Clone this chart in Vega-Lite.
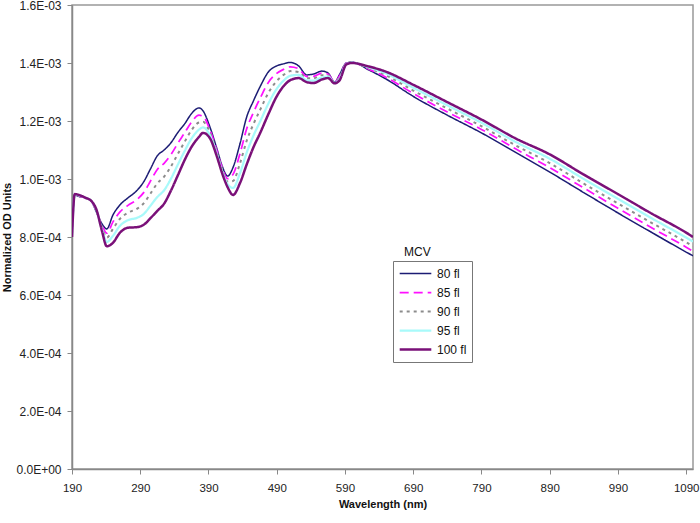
{
  "$schema": "https://vega.github.io/schema/vega-lite/v6.json",
  "width": 621,
  "height": 464,
  "autosize": {"type": "none"},
  "padding": {"left": 72, "top": 5, "right": 7, "bottom": 54},
  "background": "white",
  "config": {
    "font": "Liberation Sans",
    "view": {"stroke": "#999999", "strokeWidth": 1.5},
    "axis": {"grid": false, "domainColor": "#888888", "tickColor": "#888888", "labelColor": "#222222", "labelFontSize": 12, "titleFontSize": 12, "titleFontWeight": "bold", "titleColor": "#111111", "domainWidth": 1.5, "tickSize": 5}
  },
  "layer": [
    {
      "data": {
        "values": [
          {"w":190,"80 fl":0.000820,"85 fl":0.000815,"90 fl":0.000810,"95 fl":0.000805,"100 fl":0.000800},
          {"w":194,"80 fl":0.000945,"85 fl":0.000946,"90 fl":0.000946,"95 fl":0.000947,"100 fl":0.000948},
          {"w":200,"80 fl":0.000940,"85 fl":0.000941,"90 fl":0.000943,"95 fl":0.000944,"100 fl":0.000945},
          {"w":210,"80 fl":0.000935,"85 fl":0.000935,"90 fl":0.000935,"95 fl":0.000935,"100 fl":0.000935},
          {"w":218,"80 fl":0.000925,"85 fl":0.000925,"90 fl":0.000925,"95 fl":0.000925,"100 fl":0.000925},
          {"w":226,"80 fl":0.000885,"85 fl":0.000887,"90 fl":0.000889,"95 fl":0.000891,"100 fl":0.000893},
          {"w":234,"80 fl":0.000845,"85 fl":0.000839,"90 fl":0.000833,"95 fl":0.000826,"100 fl":0.000820},
          {"w":241,"80 fl":0.000828,"85 fl":0.000813,"90 fl":0.000798,"95 fl":0.000783,"100 fl":0.000768},
          {"w":250,"80 fl":0.000876,"85 fl":0.000852,"90 fl":0.000828,"95 fl":0.000804,"100 fl":0.000780},
          {"w":260,"80 fl":0.000910,"85 fl":0.000886,"90 fl":0.000862,"95 fl":0.000838,"100 fl":0.000814},
          {"w":272,"80 fl":0.000935,"85 fl":0.000909,"90 fl":0.000884,"95 fl":0.000858,"100 fl":0.000832},
          {"w":285,"80 fl":0.000960,"85 fl":0.000929,"90 fl":0.000897,"95 fl":0.000866,"100 fl":0.000834},
          {"w":295,"80 fl":0.000990,"85 fl":0.000953,"90 fl":0.000916,"95 fl":0.000879,"100 fl":0.000842},
          {"w":305,"80 fl":0.001035,"85 fl":0.000993,"90 fl":0.000950,"95 fl":0.000908,"100 fl":0.000865},
          {"w":315,"80 fl":0.001080,"85 fl":0.001033,"90 fl":0.000985,"95 fl":0.000938,"100 fl":0.000890},
          {"w":325,"80 fl":0.001100,"85 fl":0.001054,"90 fl":0.001008,"95 fl":0.000961,"100 fl":0.000915},
          {"w":335,"80 fl":0.001125,"85 fl":0.001084,"90 fl":0.001043,"95 fl":0.001001,"100 fl":0.000960},
          {"w":345,"80 fl":0.001160,"85 fl":0.001123,"90 fl":0.001086,"95 fl":0.001049,"100 fl":0.001012},
          {"w":355,"80 fl":0.001190,"85 fl":0.001159,"90 fl":0.001128,"95 fl":0.001096,"100 fl":0.001065},
          {"w":365,"80 fl":0.001225,"85 fl":0.001196,"90 fl":0.001168,"95 fl":0.001139,"100 fl":0.001110},
          {"w":376,"80 fl":0.001245,"85 fl":0.001220,"90 fl":0.001195,"95 fl":0.001170,"100 fl":0.001145},
          {"w":382,"80 fl":0.001235,"85 fl":0.001216,"90 fl":0.001197,"95 fl":0.001178,"100 fl":0.001159},
          {"w":392,"80 fl":0.001180,"85 fl":0.001170,"90 fl":0.001161,"95 fl":0.001151,"100 fl":0.001141},
          {"w":402,"80 fl":0.001107,"85 fl":0.001100,"90 fl":0.001094,"95 fl":0.001087,"100 fl":0.001080},
          {"w":410,"80 fl":0.001045,"85 fl":0.001039,"90 fl":0.001033,"95 fl":0.001026,"100 fl":0.001020},
          {"w":418,"80 fl":0.001010,"85 fl":0.001001,"90 fl":0.000991,"95 fl":0.000982,"100 fl":0.000972},
          {"w":426,"80 fl":0.001040,"85 fl":0.001016,"90 fl":0.000993,"95 fl":0.000969,"100 fl":0.000945},
          {"w":436,"80 fl":0.001120,"85 fl":0.001086,"90 fl":0.001053,"95 fl":0.001019,"100 fl":0.000985},
          {"w":446,"80 fl":0.001214,"85 fl":0.001173,"90 fl":0.001132,"95 fl":0.001091,"100 fl":0.001050},
          {"w":456,"80 fl":0.001270,"85 fl":0.001230,"90 fl":0.001190,"95 fl":0.001150,"100 fl":0.001110},
          {"w":466,"80 fl":0.001320,"85 fl":0.001280,"90 fl":0.001240,"95 fl":0.001200,"100 fl":0.001160},
          {"w":478,"80 fl":0.001370,"85 fl":0.001334,"90 fl":0.001298,"95 fl":0.001261,"100 fl":0.001225},
          {"w":490,"80 fl":0.001390,"85 fl":0.001364,"90 fl":0.001338,"95 fl":0.001311,"100 fl":0.001285},
          {"w":500,"80 fl":0.001397,"85 fl":0.001378,"90 fl":0.001359,"95 fl":0.001339,"100 fl":0.001320},
          {"w":510,"80 fl":0.001402,"85 fl":0.001387,"90 fl":0.001372,"95 fl":0.001356,"100 fl":0.001341},
          {"w":522,"80 fl":0.001390,"85 fl":0.001380,"90 fl":0.001369,"95 fl":0.001359,"100 fl":0.001348},
          {"w":534,"80 fl":0.001359,"85 fl":0.001353,"90 fl":0.001347,"95 fl":0.001340,"100 fl":0.001334},
          {"w":544,"80 fl":0.001362,"85 fl":0.001354,"90 fl":0.001347,"95 fl":0.001339,"100 fl":0.001331},
          {"w":556,"80 fl":0.001372,"85 fl":0.001365,"90 fl":0.001358,"95 fl":0.001350,"100 fl":0.001343},
          {"w":565,"80 fl":0.001366,"85 fl":0.001362,"90 fl":0.001357,"95 fl":0.001353,"100 fl":0.001348},
          {"w":575,"80 fl":0.001334,"85 fl":0.001333,"90 fl":0.001332,"95 fl":0.001331,"100 fl":0.001330},
          {"w":582,"80 fl":0.001360,"85 fl":0.001355,"90 fl":0.001350,"95 fl":0.001345,"100 fl":0.001340},
          {"w":592,"80 fl":0.001400,"85 fl":0.001399,"90 fl":0.001398,"95 fl":0.001396,"100 fl":0.001395},
          {"w":600,"80 fl":0.001403,"85 fl":0.001402,"90 fl":0.001402,"95 fl":0.001401,"100 fl":0.001400},
          {"w":625,"80 fl":0.001376,"85 fl":0.001379,"90 fl":0.001382,"95 fl":0.001385,"100 fl":0.001388},
          {"w":650,"80 fl":0.001345,"85 fl":0.001351,"90 fl":0.001358,"95 fl":0.001364,"100 fl":0.001370},
          {"w":690,"80 fl":0.001285,"85 fl":0.001295,"90 fl":0.001305,"95 fl":0.001315,"100 fl":0.001325},
          {"w":740,"80 fl":0.001220,"85 fl":0.001231,"90 fl":0.001243,"95 fl":0.001254,"100 fl":0.001265},
          {"w":790,"80 fl":0.001159,"85 fl":0.001171,"90 fl":0.001182,"95 fl":0.001194,"100 fl":0.001205},
          {"w":840,"80 fl":0.001092,"85 fl":0.001104,"90 fl":0.001116,"95 fl":0.001128,"100 fl":0.001140},
          {"w":890,"80 fl":0.001024,"85 fl":0.001039,"90 fl":0.001055,"95 fl":0.001070,"100 fl":0.001085},
          {"w":940,"80 fl":0.000953,"85 fl":0.000969,"90 fl":0.000984,"95 fl":0.001000,"100 fl":0.001015},
          {"w":990,"80 fl":0.000883,"85 fl":0.000899,"90 fl":0.000916,"95 fl":0.000932,"100 fl":0.000948},
          {"w":1040,"80 fl":0.000815,"85 fl":0.000831,"90 fl":0.000848,"95 fl":0.000864,"100 fl":0.000880},
          {"w":1090,"80 fl":0.000748,"85 fl":0.000765,"90 fl":0.000782,"95 fl":0.000798,"100 fl":0.000815},
          {"w":1100,"80 fl":0.000735,"85 fl":0.000751,"90 fl":0.000768,"95 fl":0.000784,"100 fl":0.000800}
        ]
      },
      "transform": [{"fold": ["80 fl", "85 fl", "90 fl", "95 fl", "100 fl"], "as": ["MCV", "v"]}],
      "mark": {"type": "line", "interpolate": "monotone", "clip": true},
      "encoding": {
        "x": {
          "field": "w", "type": "quantitative",
          "scale": {"domain": [190, 1100], "nice": false, "zero": false},
          "axis": {"title": "Wavelength (nm)", "titleFontSize": 11, "labelFontSize": 11.5, "values": [190, 290, 390, 490, 590, 690, 790, 890, 990, 1090], "format": "d", "labelPadding": 8, "titlePadding": 5, "labelFlush": false}
        },
        "y": {
          "field": "v", "type": "quantitative",
          "scale": {"domain": [0, 0.0016], "nice": false},
          "axis": {"title": "Normalized OD Units", "titleFontSize": 11, "values": [0, 0.0002, 0.0004, 0.0006, 0.0008, 0.001, 0.0012, 0.0014, 0.0016],
            "labelExpr": "datum.value == 0 ? '0.0E+00' : (datum.value < 0.00099 ? format(datum.value * 10000, '.1f') + 'E-04' : format(datum.value * 1000, '.1f') + 'E-03')",
            "labelPadding": 6, "titlePadding": 3}
        },
        "color": {
          "field": "MCV", "type": "ordinal",
          "sort": ["80 fl", "85 fl", "90 fl", "95 fl", "100 fl"],
          "scale": {"domain": ["80 fl", "85 fl", "90 fl", "95 fl", "100 fl"], "range": ["#1c1c74", "#ff10ff", "#8c8c8c", "#a8fafa", "#7a1078"]},
          "legend": {
            "title": null, "orient": "none", "legendX": 321, "legendY": 256,
            "strokeColor": "#777777", "padding": 5, "fillColor": "white",
            "symbolType": "stroke", "symbolSize": 1000, "labelFontSize": 12, "labelColor": "#111111",
            "rowPadding": 4, "clipHeight": 15, "labelOffset": 4
          }
        },
        "strokeDash": {
          "field": "MCV", "type": "ordinal",
          "sort": ["80 fl", "85 fl", "90 fl", "95 fl", "100 fl"],
          "scale": {"domain": ["80 fl", "85 fl", "90 fl", "95 fl", "100 fl"], "range": [[1, 0], [9, 5], [3, 4], [1, 0], [1, 0]]},
          "legend": {"title": null, "orient": "none", "legendX": 321, "legendY": 256}
        },
        "strokeWidth": {
          "field": "MCV", "type": "ordinal",
          "sort": ["80 fl", "85 fl", "90 fl", "95 fl", "100 fl"],
          "scale": {"domain": ["80 fl", "85 fl", "90 fl", "95 fl", "100 fl"], "range": [1.5, 2.5, 2, 3, 2.5]},
          "legend": {"title": null, "orient": "none", "legendX": 321, "legendY": 256}
        }
      }
    },
    {
      "data": {"values": [{}]},
      "mark": {"type": "text", "fontSize": 12, "color": "#111111", "align": "center", "baseline": "middle"},
      "encoding": {
        "x": {"datum": 696, "type": "quantitative"},
        "y": {"datum": 0.000748, "type": "quantitative"},
        "text": {"value": "MCV"}
      }
    }
  ]
}
